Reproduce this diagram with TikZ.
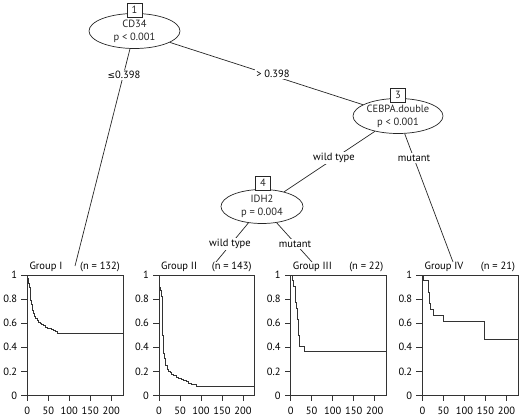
\documentclass[tikz,border=0pt]{standalone}
\usepackage{fontspec}
\setmainfont{PT Sans}
\newfontfamily\symfont{DejaVu Sans}
\usetikzlibrary{shapes.geometric}
\tikzset{
  ln/.style={line width=0.7pt, black!85},
  inner/.style={ellipse, draw, ln, inner sep=0pt, align=center,
     font=\fontsize{10.5}{13}\selectfont},
  idbox/.style={draw, ln, fill=white, minimum width=15pt, minimum height=14pt,
     inner sep=0pt, font=\fontsize{10.5}{12}\selectfont},
  edge/.style={ln},
  elabel/.style={fill=white, inner sep=1.5pt, font=\fontsize{10.5}{12}\selectfont},
  axis/.style={line width=0.6pt, black!80},
  curve/.style={line width=0.6pt, black!80},
  ptext/.style={inner sep=0pt, font=\fontsize{10.5}{12}\selectfont},
}
\newcommand\kmpanel[5]{%
\begin{scope}[shift={(#2,395.5)},x=0.42pt,y=120.5pt]
  \draw[curve] #5;
  \draw[axis] (0,0) rectangle (228,1);
  \foreach \v/\k in {0/a,0.2/b,0.4/c,0.6/d,0.8/e,1/f}{
    \draw[axis] (0,\v) -- ++(-6pt,0pt);
    \node[ptext, anchor=east] (#1y\k) at ([xshift=-10pt]0,\v) {\v};
  }
  \foreach \t in {0,50,100,150,200}{
    \draw[axis] (\t,0) -- ++(0pt,-5pt);
    \node[ptext] (#1x\t) at ([yshift=-15.5pt]\t,0) {\t};
  }
  \node[ptext, anchor=west] (#1t) at ([xshift=2pt,yshift=8pt]0,1) {#3};
  \node[ptext, anchor=east] (#1n) at ([xshift=-3pt,yshift=8pt]228,1) {#4};
\end{scope}}
\begin{document}
\begin{tikzpicture}[x=1pt,y=-1pt]
\useasboundingbox (0,0) rectangle (520,420);
% inner nodes
\node[inner, minimum width=91pt, minimum height=35pt] (n1) at (134.5,31) {CD34\\p < 0.001};
\node[inner, minimum width=90pt, minimum height=35pt] (n3) at (398,116) {CEBPA.double\\p < 0.001};
\node[inner, minimum width=82pt, minimum height=34pt] (n4) at (262,206.5) {IDH2\\p = 0.004};
% edge ends at terminal panels
\coordinate (e1) at (75,266);
\coordinate (e2) at (216,262);
\coordinate (e3) at (312,262);
\coordinate (e4) at (453,262);
% edges
\draw[edge] (n1) -- (e1);
\draw[edge] (n1) -- (n3);
\draw[edge] (n3) -- (n4);
\draw[edge] (n3) -- (e4);
\draw[edge] (n4) -- (e2);
\draw[edge] (n4) -- (e3);
% id boxes
\node[idbox] (b1) at (134.5,10) {1};
\node[idbox] (b3) at (398,95) {3};
\node[idbox] (b4) at (263,183) {4};
% edge labels
\node[elabel] (l1) at (124,75) {{\symfont\fontsize{9}{10}\selectfont ≤}0.398};
\node[elabel] (l2) at (273,74) {> 0.398};
\node[elabel] (l3) at (334,158) {wild type};
\node[elabel] (l4) at (414,158) {mutant};
\node[elabel] (l5) at (230,244) {wild type};
\node[elabel] (l6) at (295,244) {mutant};
% terminal panels
\kmpanel{p1}{27.3}{Group I}{(n = 132)}{(0,1) -| (1,0.97) -| (2,0.95) -| (3,0.93) -| (4,0.9) -| (6,0.88) -| (7,0.84) -| (8,0.79) -| (9,0.76) -| (11,0.74) -| (13,0.71) -| (15,0.68) -| (17,0.66) -| (20,0.64) -| (23,0.62) -| (26,0.61) -| (30,0.60) -| (34,0.59) -| (38,0.58) -| (42,0.57) -| (47,0.56) -| (52,0.555) -| (57,0.55) -| (62,0.54) -| (67,0.53) -| (72,0.52) -| (228,0.52)}
\kmpanel{p2}{159}{Group II}{(n = 143)}{(0,1) -| (0.5,0.95) -| (1,0.9) -| (2,0.87) -| (5,0.82) -| (7,0.75) -| (8,0.62) -| (9,0.5) -| (10,0.42) -| (11,0.35) -| (12,0.31) -| (14,0.28) -| (16,0.25) -| (19,0.22) -| (22,0.2) -| (26,0.19) -| (30,0.18) -| (35,0.165) -| (40,0.155) -| (46,0.145) -| (52,0.135) -| (58,0.125) -| (64,0.115) -| (70,0.1) -| (76,0.095) -| (82,0.09) -| (88,0.075) -| (228,0.075)}
\kmpanel{p3}{290.7}{Group III}{(n = 22)}{(0,1) -| (3,0.955) -| (6,0.909) -| (10,0.864) -| (11,0.818) -| (12,0.773) -| (14,0.727) -| (15,0.682) -| (16,0.636) -| (17,0.591) -| (18,0.545) -| (19,0.5) -| (20,0.455) -| (21,0.409) -| (32,0.364) -| (228,0.364)}
\kmpanel{p4}{422.4}{Group IV}{(n = 21)}{(0,1) -| (1,0.952) -| (14,0.905) -| (15,0.857) -| (16,0.81) -| (17,0.762) -| (19,0.714) -| (26,0.667) -| (50,0.619) -| (148,0.464) -| (228,0.464)}
\end{tikzpicture}
\end{document}
